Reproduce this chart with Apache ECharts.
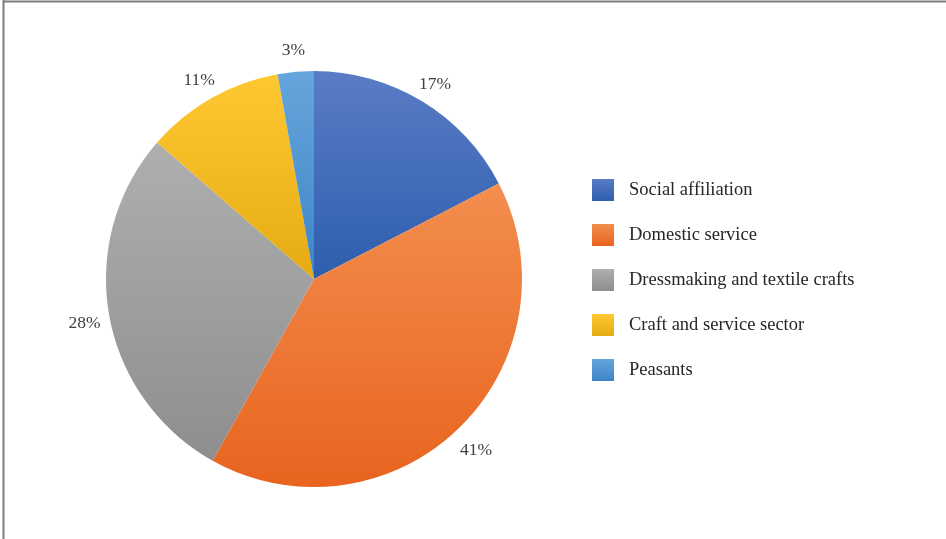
<!DOCTYPE html>
<html>
<head>
<meta charset="utf-8">
<script src="https://cdn.jsdelivr.net/npm/echarts@6/dist/echarts.min.js"></script>
<style>html,body{margin:0;padding:0;background:#fff;}#chart{width:946px;height:539px;}</style>
</head>
<body>
<div id="chart"></div>
<script>
const categories = ['Social affiliation', 'Domestic service', 'Dressmaking and textile crafts', 'Craft and service sector', 'Peasants'];
const values = [17.4, 40.7, 28.3, 10.8, 2.8];
const topColors = ['#5a7cc4', '#f38e4e', '#afafaf', '#fec832', '#66a5dc'];
const bottomColors = ['#2d5eae', '#e8641f', '#8e8e8e', '#e6ab12', '#3d85c8'];

function grad(i) {
  return new echarts.graphic.LinearGradient(0, 0, 0, 1, [
    { offset: 0, color: topColors[i] },
    { offset: 1, color: bottomColors[i] }
  ]);
}

const chart = echarts.init(document.getElementById('chart'), null, { renderer: 'canvas' });
const font = '"Liberation Serif", "Times New Roman", serif';
const option = {
  animation: false,
  backgroundColor: '#ffffff',
  graphic: [
    { type: 'line', shape: { x1: 3, y1: 1.5, x2: 946, y2: 1.5 }, style: { stroke: '#7f7f7f', lineWidth: 2 } },
    { type: 'line', shape: { x1: 3.5, y1: 0, x2: 3.5, y2: 539 }, style: { stroke: '#7f7f7f', lineWidth: 2 } }
  ],
  legend: {
    orient: 'vertical',
    left: 587,
    top: 174,
    itemWidth: 22,
    itemHeight: 22,
    itemGap: 23,
    icon: 'rect',
    data: categories,
    textStyle: { fontFamily: font, fontSize: 18.5, color: '#262626', padding: [0, 0, 0, 10] }
  },
  series: [
    {
      type: 'pie',
      center: [314, 279],
      radius: 208,
      startAngle: 90,
      clockwise: true,
      label: { show: false },
      labelLine: { show: false },
      itemStyle: { borderWidth: 0 },
      emphasis: { disabled: true },
      data: categories.map((c, i) => ({ name: c, value: values[i], itemStyle: { color: grad(i) } }))
    },
    {
      type: 'pie',
      center: [314, 279],
      radius: [212, 248],
      startAngle: 90,
      clockwise: true,
      silent: true,
      legendHoverLink: false,
      emphasis: { disabled: true },
      itemStyle: { color: 'rgba(0,0,0,0)' },
      label: {
        show: true,
        position: 'inside',
        formatter: p => Math.round(p.value) + '%',
        fontFamily: font,
        fontSize: 17.5,
        color: '#404040',
        offset: [0, 4]
      },
      labelLine: { show: false },
      data: categories.map((c, i) => ({ name: c, value: values[i] }))
    }
  ]
};
chart.setOption(option);
</script>
</body>
</html>
